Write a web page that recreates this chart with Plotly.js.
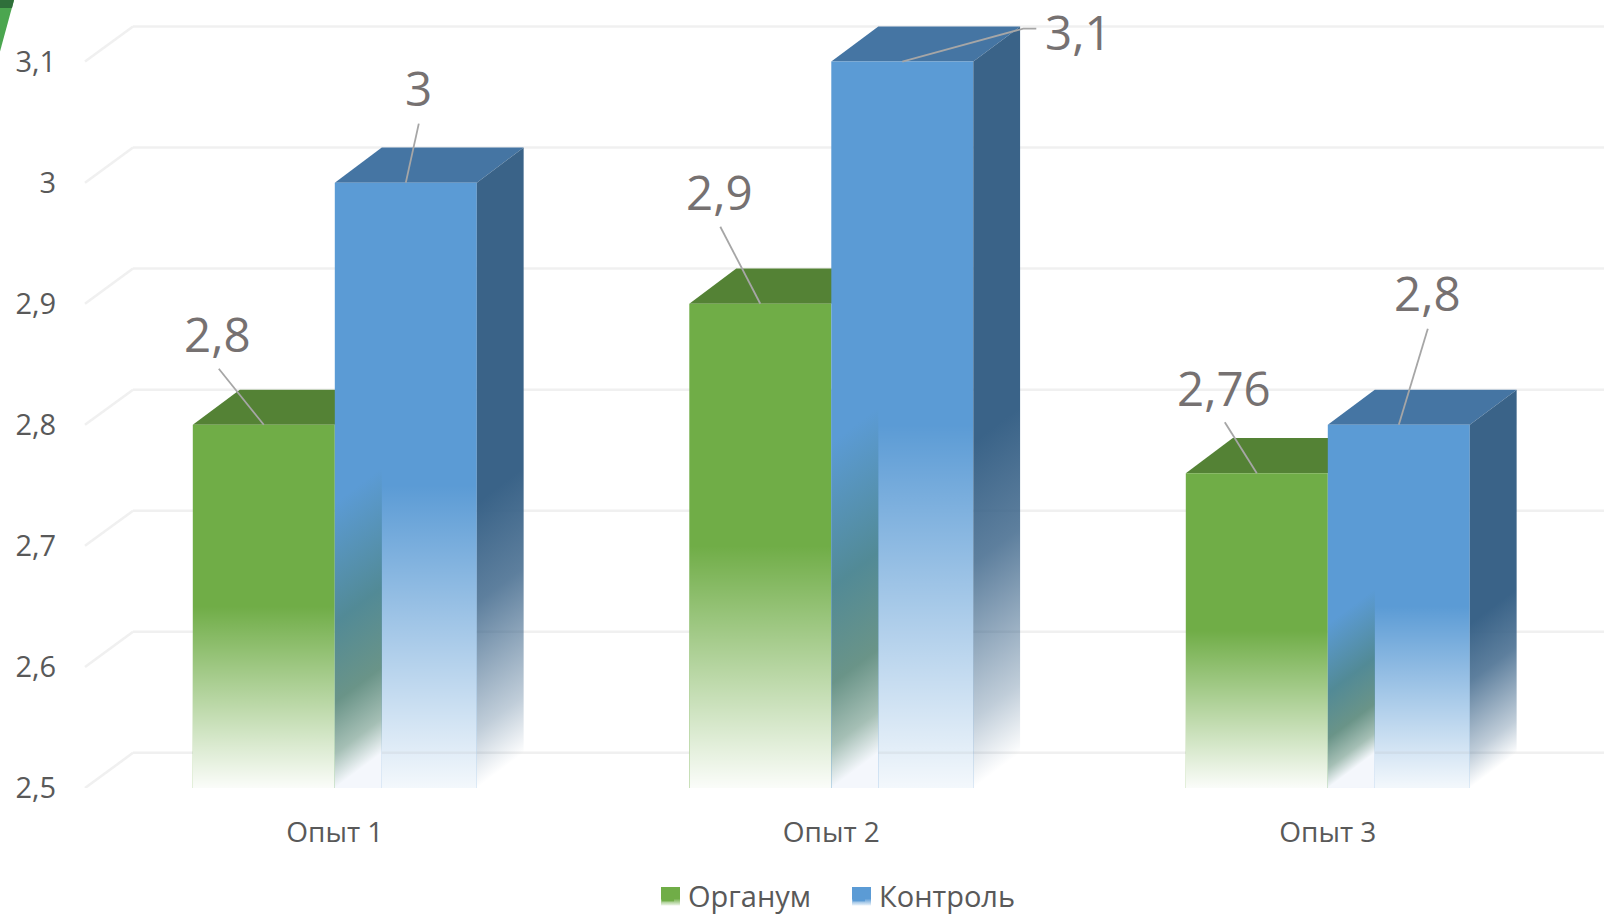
<!DOCTYPE html>
<html><head><meta charset="utf-8">
<script src="https://cdn.plot.ly/plotly-3.0.1.min.js"></script>
<style>html,body{margin:0;padding:0;background:#fff;overflow:hidden}#c{width:1604px;height:921px}</style>
</head><body><div id="c"></div>
<script>
const categories = ['Опыт 1', 'Опыт 2', 'Опыт 3'];
const organum = [2.8, 2.9, 2.76];
const control = [3, 3.1, 2.8];
const seriesNames = ['Органум', 'Контроль'];
const axisTicks = [2.5, 2.6, 2.7, 2.8, 2.9, 3, 3.1];
const axisLabels = ['2,5', '2,6', '2,7', '2,8', '2,9', '3', '3,1'];
// label centre offsets (px, right / up) from the top-centre of each bar
const labelOffsets = [
  [[-46, 91], [-41, 112], [-33, 86]],
  [[13, 95], [176, 30], [29, 132]]
];
// leader-line vertices (px, right / up) from the same anchor
const leaderOffsets = [
  [[[-45, 56]], [[-40, 77]], [[-32, 51]]],
  [[[13, 59]], [[121, 33], [134, 33]], [[29, 96]]]
];

const W = 1604, H = 921, L = 85, B = 796;
const PXX = 496.5, PXY = 1223, C0 = 334.8;
const BASE = 2.5;
const xRange = [(L - C0) / PXX, (W - C0) / PXX];
const yRange = [BASE, BASE + B / PXY];
const barW = 142 / PXX, DPX = 47, DPY = 35.5;
const dx = DPX / PXX, dy = DPY / PXY;
const colors = [
  {front: '#70ad47', top: '#548235'},
  {front: '#5b9bd5', top: '#4575a3', side: '#3a6388'}
];
const uri = s => 'data:image/svg+xml;utf8,' + encodeURIComponent(s);
const px = v => 1 - v / B;               // page y -> paper y
const pxp = v => (v - L) / (W - L);      // page x -> paper x

function greenOverlay(hpx) {
  const w = 142, ys = hpx * 0.5;
  return `<svg xmlns="http://www.w3.org/2000/svg" width="${w}" height="${hpx}" viewBox="0 0 ${w} ${hpx}" preserveAspectRatio="none"><defs><linearGradient id="g" gradientUnits="userSpaceOnUse" x1="0" y1="${ys}" x2="0" y2="${hpx}"><stop offset="0" stop-color="#fff" stop-opacity="0"/><stop offset="1" stop-color="#fff" stop-opacity="0.97"/></linearGradient></defs><rect x="0" y="${ys}" width="${w}" height="${hpx - ys}" fill="url(#g)"/></svg>`;
}
function blueOverlay(hpx) {
  const w = 142, d = DPX, s = DPY, fh = hpx - s;
  const ys = s + fh * 0.5, ye = hpx, ysd = ys + s / 2;
  const nl = Math.hypot(s, d), nx = s / nl, ny = d / nl, t = (ye - ysd) * ny;
  const grad = (id, x0, stops) => `<linearGradient id="${id}" gradientUnits="userSpaceOnUse" x1="${x0}" y1="${ysd}" x2="${x0 + t * nx}" y2="${ysd + t * ny}">${stops}</linearGradient>`;
  const stopsB = '<stop offset="0" stop-color="#5b9bd5"/><stop offset="0.42" stop-color="#528a96"/><stop offset="0.7" stop-color="#6a9488"/><stop offset="0.88" stop-color="#a5bfb5"/><stop offset="1" stop-color="#f4f7fc"/>';
  const stopsS = '<stop offset="0" stop-color="#3a6388"/><stop offset="0.35" stop-color="#3a6388" stop-opacity="0.82"/><stop offset="0.8" stop-color="#3a6388" stop-opacity="0.32"/><stop offset="1" stop-color="#3a6388" stop-opacity="0"/>';
  return `<svg xmlns="http://www.w3.org/2000/svg" width="${w + d}" height="${hpx}" viewBox="0 0 ${w + d} ${hpx}" preserveAspectRatio="none"><defs>${grad('b', 0, stopsB)}${grad('s', w, stopsS)}<linearGradient id="c" gradientUnits="userSpaceOnUse" x1="0" y1="${ys}" x2="0" y2="${ye}"><stop offset="0" stop-color="#fff" stop-opacity="0"/><stop offset="1" stop-color="#fff" stop-opacity="0.93"/></linearGradient></defs><rect x="${d}" y="${ys}" width="${w - d}" height="${ye - ys}" fill="url(#c)"/><rect x="0" y="${ys - s}" width="${d}" height="${ye - ys + s}" fill="url(#b)"/><polygon points="${w},${s} ${w + d},0 ${w + d},${hpx - s} ${w},${hpx}" fill="url(#s)"/></svg>`;
}
const swatch = (c) => `<svg xmlns="http://www.w3.org/2000/svg" width="19" height="19"><defs><linearGradient id="g" x1="0" y1="0" x2="0" y2="1"><stop offset="0.62" stop-color="${c}"/><stop offset="1" stop-color="${c}" stop-opacity="0.08"/></linearGradient></defs><rect width="19" height="19" fill="url(#g)"/></svg>`;

const shapes = [], images = [], annotations = [];
axisTicks.forEach(v => {
  const line = {color: '#f0f0f0', width: 2.5};
  shapes.push({type: 'line', layer: 'below', xref: 'paper', yref: 'y', x0: pxp(133), x1: 1, y0: v + dy, y1: v + dy, line});
  shapes.push({type: 'line', layer: 'below', xref: 'paper', yref: 'y', x0: 0, x1: pxp(133), y0: v, y1: v + dy, line});
});
[organum, control].forEach((vals, s) => {
  vals.forEach((v, i) => {
    const x0 = i + (s - 1) * barW, x1 = x0 + barW, cx = x0 + barW / 2;
    shapes.push({type: 'path', layer: 'below', xref: 'x', yref: 'y', line: {width: 0},
      fillcolor: colors[s].top,
      path: `M${x0},${v}L${x0 + dx},${v + dy}L${x1 + dx},${v + dy}L${x1},${v}Z`});
    if (s === 0) {
      images.push({source: uri(greenOverlay(Math.round((v - BASE) * PXY))), layer: 'above', xref: 'x', yref: 'y',
        x: x0, y: v, sizex: barW, sizey: v - BASE, xanchor: 'left', yanchor: 'top', sizing: 'stretch'});
    } else {
      images.push({source: uri(blueOverlay(Math.round((v + dy - BASE) * PXY))), layer: 'above', xref: 'x', yref: 'y',
        x: x0, y: v + dy, sizex: barW + dx, sizey: v + dy - BASE, xanchor: 'left', yanchor: 'top', sizing: 'stretch'});
    }
    annotations.push({x: cx, y: v, xref: 'x', yref: 'y', xanchor: 'center', yanchor: 'middle',
      xshift: labelOffsets[s][i][0], yshift: labelOffsets[s][i][1],
      text: String(v).replace('.', ','), showarrow: false,
      font: {family: 'Open Sans', size: 47.5, color: '#767171'}});
    const verts = leaderOffsets[s][i];
    shapes.push({type: 'path', layer: 'above', xref: 'x', yref: 'y', xsizemode: 'pixel', ysizemode: 'pixel',
      xanchor: cx, yanchor: v, line: {color: '#a6a6a6', width: 1.8},
      path: 'M0,0' + verts.map(p => `L${p[0]},${p[1]}`).join('')});
  });
});
categories.forEach((_, i) => {
  shapes.push({type: 'line', layer: 'above', xref: 'x', yref: 'y', x0: i + dx, x1: i + barW, y0: BASE + dy, y1: BASE + dy,
    line: {color: 'rgba(170,170,170,0.14)', width: 2.5}});
});
// green corner sliver from the slide
shapes.push({type: 'path', layer: 'above', xref: 'paper', yref: 'paper', line: {width: 0}, fillcolor: '#4ba64f',
  path: `M${pxp(0)},${px(0)}L${pxp(14)},${px(0)}L${pxp(0)},${px(52)}Z`});
shapes.push({type: 'path', layer: 'above', xref: 'paper', yref: 'paper', line: {width: 0}, fillcolor: '#2f6f3a',
  path: `M${pxp(0)},${px(0)}L${pxp(14)},${px(0)}L${pxp(12)},${px(8)}L${pxp(0)},${px(8)}Z`});
// legend swatches
[[661, colors[0].front], [852, colors[1].front]].forEach(([xp, c]) => {
  images.push({source: uri(swatch(c)), layer: 'above', xref: 'paper', yref: 'paper', x: pxp(xp), y: px(896),
    sizex: 19 / (W - L), sizey: 19 / B, xanchor: 'left', yanchor: 'top', sizing: 'stretch'});
});

const xs = categories.map((_, i) => i);
const traces = [organum, control].map((vals, s) => ({
  type: 'bar', name: seriesNames[s], x: xs, y: vals.map(v => v - BASE), base: BASE,
  marker: {color: colors[s].front, line: {width: 0}}, hoverinfo: 'skip'
}));
const layout = {
  width: W, height: H, margin: {l: L, r: 0, t: 0, b: H - B, pad: 0},
  paper_bgcolor: '#fff', plot_bgcolor: 'rgba(0,0,0,0)', barmode: 'group',
  bargap: 1 - 2 * barW, bargroupgap: 0, showlegend: true,
  font: {family: 'Open Sans', color: '#595959'},
  xaxis: {range: xRange, tickmode: 'array', tickvals: xs, ticktext: categories, showgrid: false, zeroline: false, showline: false,
    ticks: 'outside', ticklen: 19, tickcolor: 'rgba(0,0,0,0)', tickfont: {family: 'Open Sans', size: 28, color: '#595959'}},
  yaxis: {range: yRange, tickmode: 'array', tickvals: axisTicks, ticktext: axisLabels, showgrid: false, zeroline: false, showline: false,
    ticks: 'outside', ticklen: 22, tickcolor: 'rgba(0,0,0,0)', tickfont: {family: 'Open Sans', size: 29, color: '#595959'}},
  legend: {orientation: 'h', x: pxp(648), xanchor: 'left', y: px(905), yanchor: 'middle', bgcolor: 'rgba(0,0,0,0)',
    entrywidth: 146, entrywidthmode: 'pixels',
    font: {family: 'Open Sans', size: 29, color: '#595959'}, traceorder: 'normal'},
  shapes, images, annotations
};
Plotly.newPlot('c', traces, layout, {displayModeBar: false, staticPlot: true});
</script></body></html>
